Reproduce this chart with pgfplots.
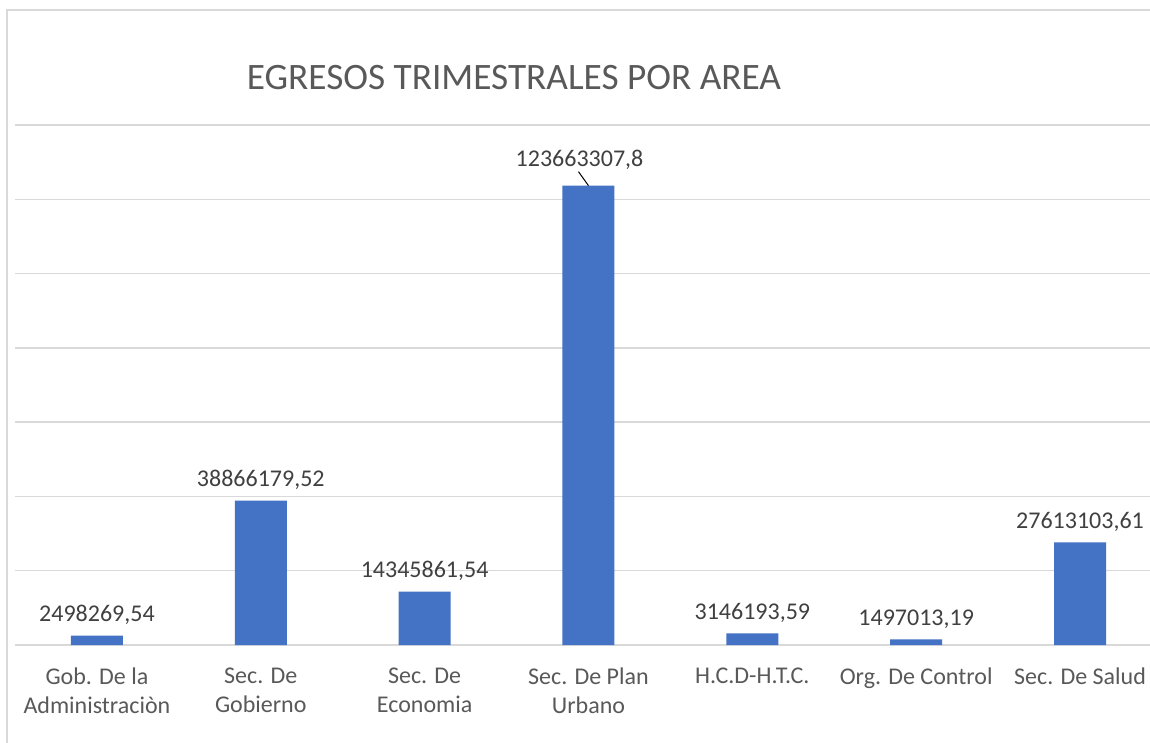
\documentclass[border=0pt]{standalone}
\usepackage{pgfplots}
\pgfplotsset{compat=1.18}
\usepackage{fontspec}
\setmainfont{Carlito}
\definecolor{barblue}{HTML}{4472C4}
\definecolor{gridgray}{HTML}{D9D9D9}
\definecolor{labgray}{HTML}{595959}
\definecolor{datagray}{HTML}{404040}
\begin{document}
\begin{tikzpicture}
\useasboundingbox (0pt,0pt) rectangle (1150pt,742pt);
\fill[white] (0pt,0pt) rectangle (1150pt,742pt);
\clip (0pt,0pt) rectangle (1150pt,742pt);
\draw[gridgray, line width=1.5pt] (7pt,-5pt) -- (7pt,732pt) -- (1160pt,732pt);
\node[anchor=base, text=labgray, inner sep=0pt, font=\fontsize{37.3}{44}\selectfont] at (514pt,652pt) {EGRESOS TRIMESTRALES POR AREA};
\begin{axis}[
  at={(15pt,97pt)}, anchor=south west,
  scale only axis, width=1147pt, height=520pt,
  xmin=-0.5, xmax=6.5, ymin=0, ymax=140000000,
  clip=false,
  axis line style={draw=none},
  major tick length=0pt,
  xtick={0,1,2,3,4,5,6},
  xticklabels={{Gob. De la\\Administraciòn},{Sec. De\\Gobierno},{Sec. De\\Economia},{Sec. De Plan\\Urbano},{H.C.D-H.T.C.},{Org. De Control},{Sec. De Salud}},
  xticklabel style={anchor=north, inner sep=0pt, yshift=-23pt, align=center, text=labgray, font=\fontsize{24}{29}\selectfont},
  ytick={0,20000000,40000000,60000000,80000000,100000000,120000000,140000000},
  yticklabels={},
  scaled y ticks=false,
  ymajorgrids,
  grid style={draw=gridgray, line width=1.5pt},
]
\addplot[ybar, fill=barblue, draw=none, bar width=52pt,
  nodes near coords, point meta=explicit symbolic,
  nodes near coords style={anchor=base, yshift=14pt, inner sep=0pt, text=datagray, font=\fontsize{24}{29}\selectfont}]
coordinates {
  (0,2498269.54) [2498269,54]
  (1,38866179.52) [38866179,52]
  (2,14345861.54) [14345861,54]
  (3,123663307.8) []
  (4,3146193.59) [3146193,59]
  (5,1497013.19) [1497013,19]
  (6,27613103.61) [27613103,61]
};
\node[anchor=base, inner sep=0pt, xshift=-9pt, yshift=19pt, text=datagray, font=\fontsize{24}{29}\selectfont] at (axis cs:3,123663307.8) {123663307,8};
\draw[black, line width=1pt] (axis cs:3,123663307.8) -- ++(-10pt,14pt);
\end{axis}
\end{tikzpicture}
\end{document}
